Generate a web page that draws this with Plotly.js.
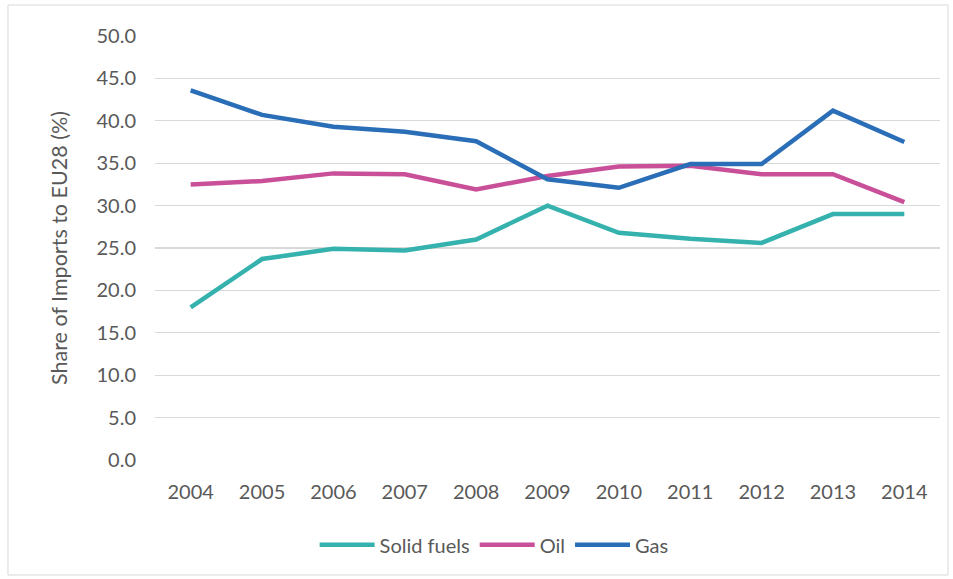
<!DOCTYPE html>
<html>
<head>
<meta charset="utf-8">
<script src="https://cdn.plot.ly/plotly-3.0.1.min.js"></script>
<style>html,body{margin:0;padding:0;background:#fff;}#chart{width:953px;height:579px;}</style>
</head>
<body>
<div id="chart"></div>
<script>
const years = ["2004","2005","2006","2007","2008","2009","2010","2011","2012","2013","2014"];
const solidFuels = [18.0, 23.7, 24.9, 24.7, 26.0, 30.0, 26.8, 26.1, 25.6, 29.0, 29.0];
const oil = [32.5, 32.9, 33.8, 33.7, 31.9, 33.5, 34.6, 34.7, 33.7, 33.7, 30.4];
const gas = [43.6, 40.7, 39.3, 38.7, 37.6, 33.1, 32.1, 34.9, 34.9, 41.2, 37.5];
const yTicks = [0,5,10,15,20,25,30,35,40,45,50];

const font = "Lato, 'Open Sans', sans-serif";
const traces = [
  {x: years, y: solidFuels, name: "Solid fuels", type: "scatter", mode: "lines", line: {color: "#35B2AD", width: 4.5}},
  {x: years, y: oil, name: "Oil", type: "scatter", mode: "lines", line: {color: "#C84F98", width: 4.5}},
  {x: years, y: gas, name: "Gas", type: "scatter", mode: "lines", line: {color: "#2A6EB7", width: 4.5}}
];
const layout = {
  width: 953, height: 579,
  margin: {l: 155, r: 13, t: 36, b: 119},
  paper_bgcolor: "#fff", plot_bgcolor: "#fff",
  font: {family: font, size: 20, color: "#595959"},
  xaxis: {type: "category", range: [-0.5, 10.5], showgrid: false, zeroline: false, showline: false, ticks: "", ticklabelstandoff: 18, tickfont: {size: 20, color: "#595959"}, fixedrange: true},
  yaxis: {range: [0, 50], tickvals: yTicks, ticktext: yTicks.map(v => v.toFixed(1)), showgrid: true, gridcolor: "#d9d9d9", gridwidth: 1.3, zeroline: false, showline: false, ticks: "", ticklabelstandoff: 18, tickfont: {size: 20, color: "#595959"}, title: {text: "Share of Imports to EU28 (%)", font: {size: 21.5, color: "#595959"}, standoff: 22}, fixedrange: true},
  showlegend: true,
  legend: {orientation: "h", x: 0.432, xanchor: "center", y: -0.2, yanchor: "middle", itemwidth: 55, font: {size: 20, color: "#595959"}, traceorder: "normal"},
  shapes: [{type: "rect", xref: "paper", yref: "paper", x0: -0.1873, x1: 1.0102, y0: -0.2712, y1: 1.0731, line: {color: "#d9d9d9", width: 1}}]
};
Plotly.newPlot("chart", traces, layout, {displayModeBar: false, staticPlot: true});
</script>
</body>
</html>
